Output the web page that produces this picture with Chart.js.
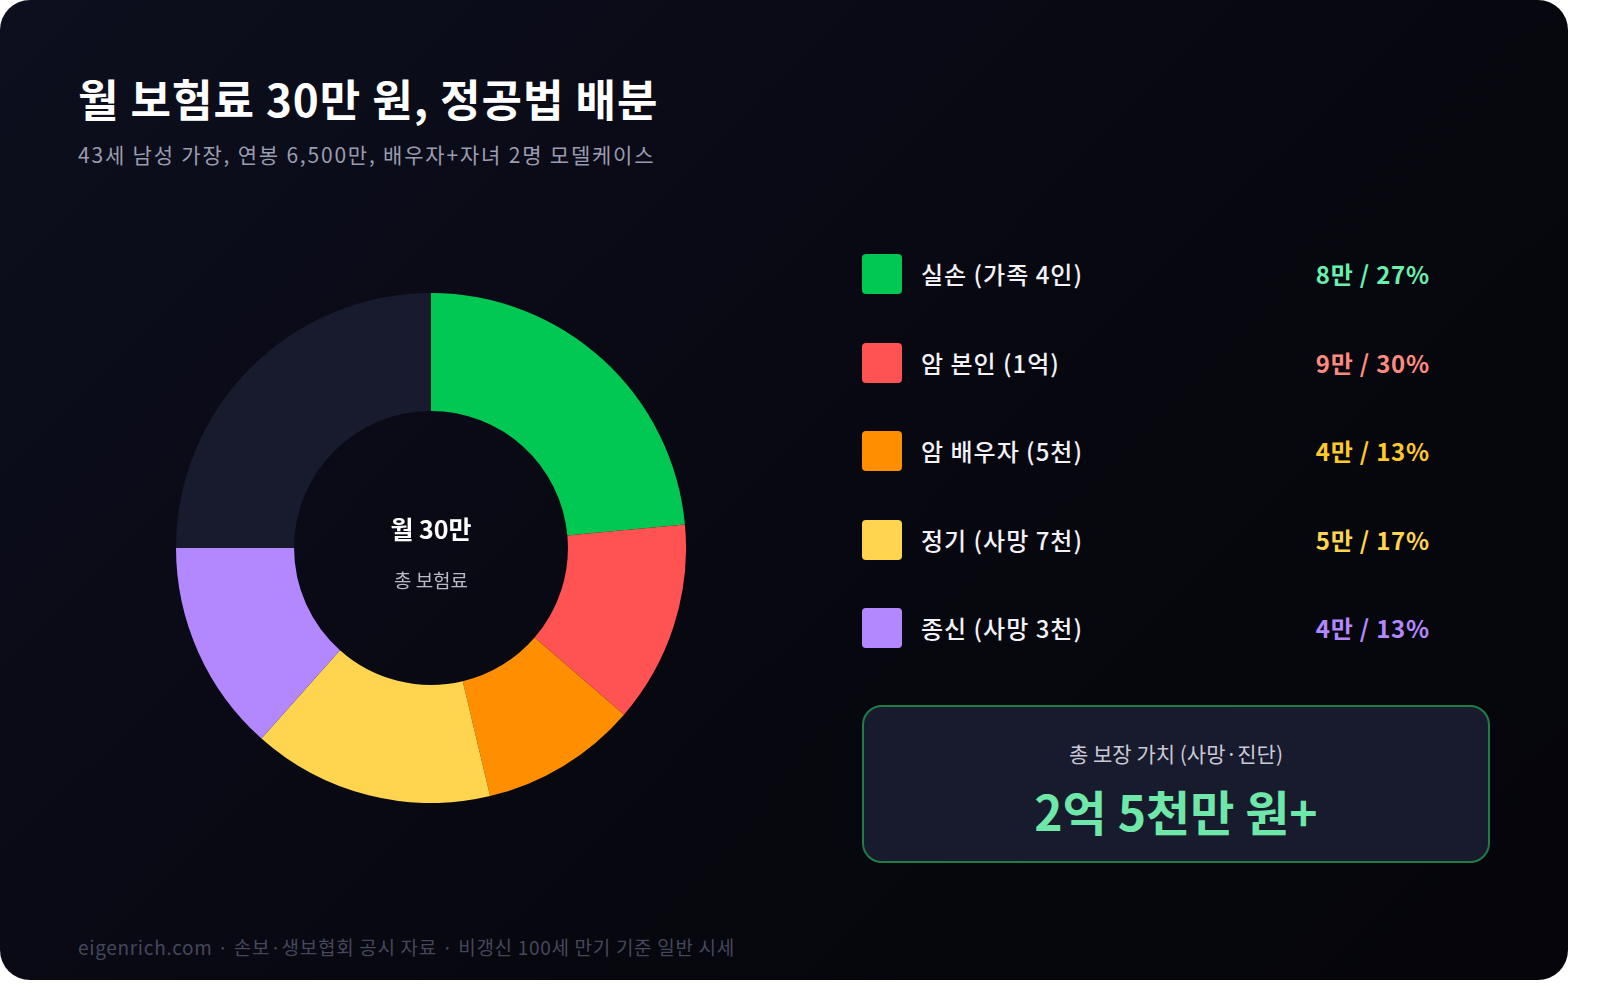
<!DOCTYPE html>
<html><head><meta charset="utf-8">
<script src="https://cdn.jsdelivr.net/npm/chart.js@4"></script>
<style>
html,body{margin:0;padding:0;background:#fff;width:1600px;height:1000px;overflow:hidden;font-family:"Noto Sans CJK KR","Noto Sans",sans-serif;}
#card{position:absolute;left:0;top:0;width:1568px;height:980px;border-radius:30px;background:linear-gradient(135deg,#0d0f1e 0%,#07070f 60%,#05050b 100%);overflow:hidden;}
.t{position:absolute;white-space:nowrap;}
#title{left:78px;top:66px;font-size:44px;font-weight:700;color:#fff;letter-spacing:1px;}
#sub{left:78px;top:139px;font-size:21px;color:#9a9cb0;letter-spacing:1.8px;}
#foot{left:78px;top:933px;font-size:19px;color:#45475a;letter-spacing:0.7px;}
#cv{position:absolute;left:176px;top:293px;width:510px;height:510px;}
.row{position:absolute;left:862px;width:568px;height:40px;}
.sw{position:absolute;left:0;top:0;width:40px;height:40px;border-radius:4px;}
.lb{position:absolute;left:59px;top:2px;font-size:24px;font-weight:500;color:#f2f2f7;letter-spacing:1px;}
.vl{position:absolute;right:0;top:2px;font-size:24px;font-weight:700;letter-spacing:0.8px;}
#box{position:absolute;left:862px;top:705px;width:624px;height:154px;border:2px solid #1e7d45;border-radius:20px;background:#181a2d;}
</style></head><body>
<div id="card">
<div class="t" id="title">월 보험료 30만 원, 정공법 배분</div>
<div class="t" id="sub">43세 남성 가장, 연봉 6,500만, 배우자+자녀 2명 모델케이스</div>
<canvas id="cv" width="510" height="510"></canvas>
<div class="t" style="left:331px;top:510px;width:200px;text-align:center;font-size:25px;font-weight:700;color:#fff">월 30만</div>
<div class="t" style="left:331px;top:566px;width:200px;text-align:center;font-size:19px;color:#b8b9c8">총 보험료</div>
<div id="legend"></div>
<div id="box">
<div class="t" style="left:0;width:624px;top:31px;text-align:center;font-size:21px;color:#c8c9d6">총 보장 가치 (사망·진단)</div>
<div class="t" style="left:0;width:624px;top:68px;text-align:center;font-size:48px;font-weight:700;color:#6ee7a8">2억 5천만 원+</div>
</div>
<div class="t" id="foot">eigenrich.com · 손보·생보협회 공시 자료 · 비갱신 100세 만기 기준 일반 시세</div>
</div>
<script>
const categories=["실손 (가족 4인)","암 본인 (1억)","암 배우자 (5천)","정기 (사망 7천)","종신 (사망 3천)",""];
const sliceValues=[8.0,4.35,3.38,5.2,4.56,8.5];
const legendValues=["8만 / 27%","9만 / 30%","4만 / 13%","5만 / 17%","4만 / 13%"];
const colors=["#00c853","#ff5252","#ff8f00","#ffd54f","#b388ff","#181a2e"];
const valueColors=["#69f0ae","#ff8a80","#ffca28","#ffd54f","#b388ff"];
const lg=document.getElementById('legend');
legendValues.forEach((v,i)=>{
 const r=document.createElement('div');r.className='row';r.style.top=(254+i*88.5)+'px';
 r.innerHTML=`<div class="sw" style="background:${colors[i]}"></div><div class="t lb">${categories[i]}</div><div class="t vl" style="color:${valueColors[i]}">${v}</div>`;
 lg.appendChild(r);
});
new Chart(document.getElementById('cv'),{type:'doughnut',
 data:{labels:categories,datasets:[{data:sliceValues,backgroundColor:colors,borderWidth:0}]},
 options:{responsive:false,animation:false,cutout:'53.7%',layout:{padding:0},
  plugins:{legend:{display:false},tooltip:{enabled:false}}}});
</script>
</body></html>
